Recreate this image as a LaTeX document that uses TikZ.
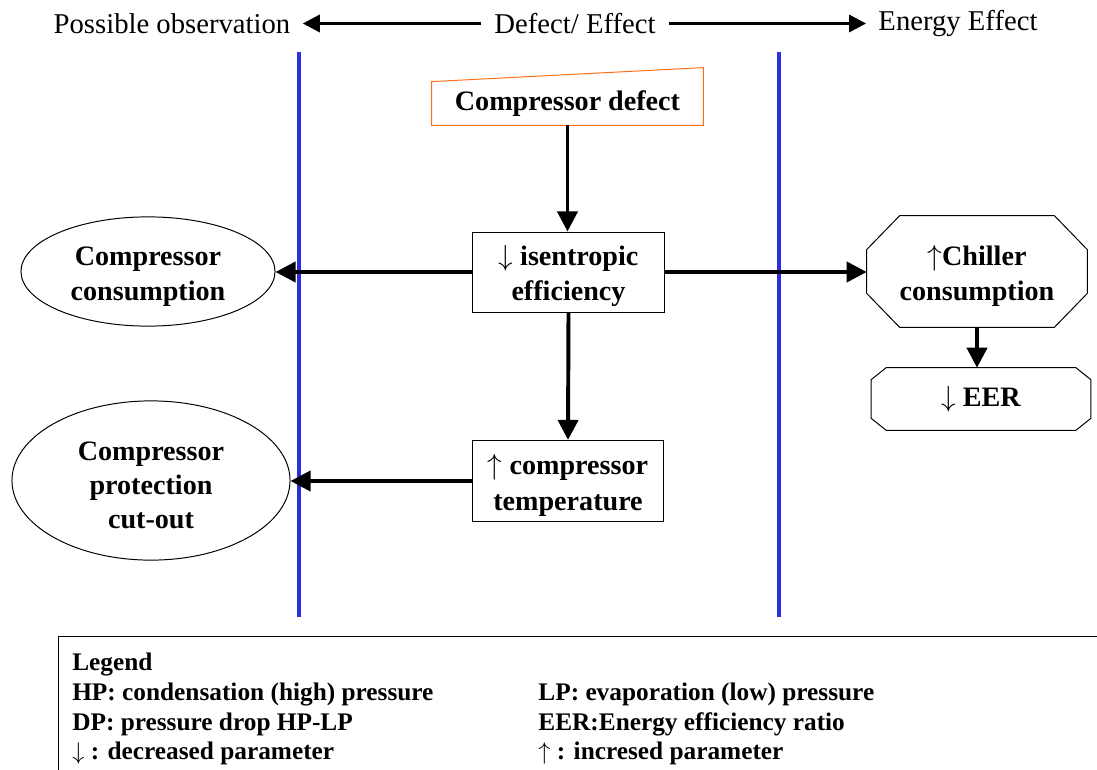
\documentclass[tikz,border=0pt]{standalone}
\usepackage{fontspec}
\setmainfont{Liberation Serif}
\usepackage{tikz}
\usetikzlibrary{arrows.meta,shapes,positioning,calc}
\usepackage{xcolor}
\definecolor{cutblue}{RGB}{45,45,225}
\definecolor{defectorange}{RGB}{255,110,20}
\newcommand{\boxfont}{\fontsize{20}{25}\selectfont\bfseries}
\newcommand{\headfont}{\fontsize{20.4}{24}\selectfont}
\newcommand{\legendfont}{\fontsize{18}{21}\selectfont\bfseries}
% extra room above the first line of a box
\newcommand{\lift}{\rule{0pt}{20.5pt}}
\tikzstyle{effect} = [rectangle, draw, line width=0.7pt, minimum width=4.78cm, minimum height=2cm, align=center, font=\boxfont]
\tikzstyle{observation} = [ellipse, draw, line width=0.7pt, inner sep=0pt, align=center, font=\boxfont]
\tikzstyle{energy} = [rectangle, inner sep=0pt, align=center, font=\boxfont]
\tikzstyle{arrow} = [line width=2.8pt, -{Triangle[length=0.5cm,width=0.5cm]}]
\tikzstyle{headarrow} = [line width=2.8pt, -{Triangle[length=0.43cm,width=0.42cm]}]
\tikzstyle{divider} = [line width=2.6pt, draw=cutblue]
% octagon drawn round a node: #2 = horizontal cut, #3 = vertical cut
\newcommand{\octbox}[3]{%
\draw[line width=0.7pt] ($(#1.north west)+(#2,0)$) -- ($(#1.north east)+(-#2,0)$) -- ($(#1.north east)+(0,#3)$) -- ($(#1.south east)+(0,-#3)$) -- ($(#1.south east)+(-#2,0)$) -- ($(#1.south west)+(#2,0)$) -- ($(#1.south west)+(0,-#3)$) -- ($(#1.north west)+(0,#3)$) -- cycle;}

\begin{document}
\begin{tikzpicture}[x=0.025cm, y=-0.025cm]
\useasboundingbox (0,0) rectangle (1097,769);

% Column headings
\node[font=\headfont, inner xsep=0.3cm] (obs) at (172,23.5) {Possible observation};
\node[font=\headfont, inner xsep=0.33cm] (defeff) at (575,23.5) {Defect/ Effect};
\node[font=\headfont, inner xsep=0.3cm] (enrg) at (958,23.5) {Energy Effect};
\draw[headarrow] (defeff.west) -- (obs.east);
\draw[headarrow] (defeff.east) -- (enrg.west);

% Column separators
\draw[divider] (299,52) -- (299,617);
\draw[divider] (779,52) -- (779,617);

% Defect
\node[energy, minimum width=6.78cm, minimum height=1.08cm] (defect) at (567.5,103.5) {Compressor defect};
\draw[defectorange, line width=0.7pt] (defect.south west) -- (defect.north west) -- ($(defect.north east)+(0,-14)$) -- (defect.south east) -- cycle;

% Effects
\node[effect] (isen) at (568.5,272) {\lift$\downarrow$ isentropic\\efficiency};
\node[effect, minimum height=2.03cm] (temp) at (568,481) {\lift$\uparrow$ compressor\\temperature};

% Observations
\node[observation, minimum width=6.35cm, minimum height=2.73cm] (cons) at (148,271.5) {\lift Compressor\\consumption};
\node[observation, minimum width=6.95cm, minimum height=3.98cm, font=\boxfont\fontsize{20}{24}\selectfont] (prot) at (151,480.5) {\lift Compressor\\protection\\cut-out};

% Energy effects
\node[energy, minimum width=5.5cm, minimum height=2.78cm] (chil) at (977,271.5) {\lift$\uparrow$Chiller\\consumption};
\octbox{chil}{33}{34}
\node[energy, minimum width=5.48cm, minimum height=1.55cm] (eer) at (981,399) {$\downarrow$ EER};
\octbox{eer}{15}{12}

\draw[arrow] (defect.south) -- (defect.south |- isen.north);
\draw[arrow] (isen.south) -- (temp.north);
\draw[arrow] (isen.west) -- (isen.west -| cons.east);
\draw[arrow] (isen.east) -- (isen.east -| chil.west);
\draw[arrow] (temp.west) -- (temp.west -| prot.east);
\draw[arrow] (chil.south) -- (chil.south |- eer.north);

% Legend
\draw[line width=0.7pt] (58,636) rectangle (1120,790);
\node[anchor=north west, inner sep=0pt, font=\legendfont] (legend) at (72,650) {%
\begin{tabular}{@{}p{11.65cm}@{}l@{}}
Legend & \\
HP: condensation (high) pressure & LP: evaporation (low) pressure \\
DP: pressure drop HP-LP & EER:Energy efficiency ratio \\
$\downarrow$ : decreased parameter & $\uparrow$ : incresed parameter
\end{tabular}};
\end{tikzpicture}
\end{document}
